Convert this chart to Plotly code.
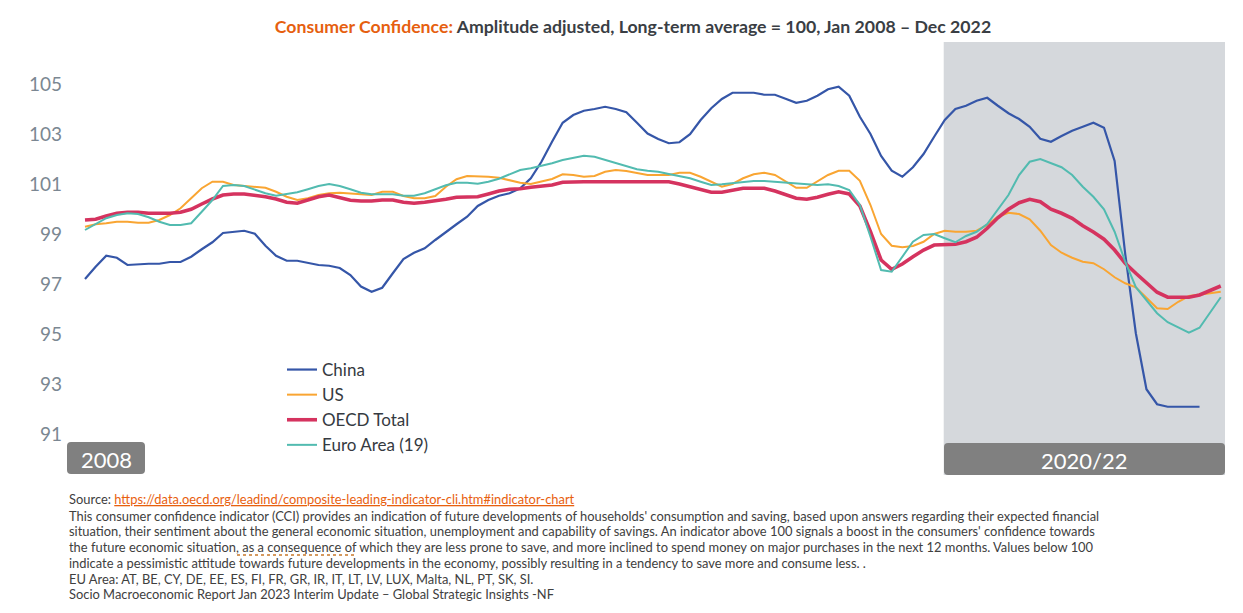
import plotly.graph_objects as go

# monthly readings, one value per period (China series stops two periods early)
china = [
    97.20, 97.69, 98.13, 98.05, 97.76, 97.79, 97.81, 97.81, 97.88, 97.88,
    98.09, 98.39, 98.67, 99.04, 99.09, 99.13, 99.01, 98.53, 98.13, 97.93,
    97.93, 97.85, 97.76, 97.73, 97.64, 97.36, 96.90, 96.69, 96.85, 97.43,
    98.00, 98.25, 98.43, 98.76, 99.09, 99.39, 99.69, 100.12, 100.36, 100.53,
    100.63, 100.83, 101.23, 101.89, 102.69, 103.45, 103.76, 103.93, 104.00, 104.09,
    104.00, 103.87, 103.45, 103.02, 102.80, 102.63, 102.67, 102.99, 103.56, 104.03,
    104.40, 104.65, 104.65, 104.65, 104.57, 104.57, 104.41, 104.25, 104.33, 104.53,
    104.79, 104.89, 104.53, 103.69, 103.00, 102.12, 101.53, 101.29, 101.67, 102.20,
    102.89, 103.56, 104.00, 104.13, 104.33, 104.45, 104.13, 103.83, 103.60, 103.29,
    102.81, 102.69, 102.92, 103.13, 103.29, 103.45, 103.25, 101.92, 98.20, 95.03,
    92.79, 92.19, 92.09, 92.09, 92.09, 92.09,
]
us = [
    99.29, 99.39, 99.43, 99.49, 99.49, 99.45, 99.45, 99.56, 99.76, 100.03,
    100.43, 100.83, 101.09, 101.09, 100.96, 100.92, 100.87, 100.85, 100.69, 100.49,
    100.36, 100.43, 100.56, 100.63, 100.65, 100.63, 100.59, 100.56, 100.69, 100.69,
    100.52, 100.43, 100.43, 100.52, 100.89, 101.19, 101.32, 101.32, 101.29, 101.25,
    101.16, 101.05, 101.00, 101.09, 101.20, 101.39, 101.36, 101.29, 101.32, 101.49,
    101.56, 101.52, 101.43, 101.36, 101.36, 101.36, 101.45, 101.45, 101.29, 101.09,
    100.89, 101.00, 101.23, 101.39, 101.45, 101.36, 101.09, 100.85, 100.85, 101.09,
    101.36, 101.53, 101.53, 101.13, 100.16, 99.00, 98.53, 98.47, 98.52, 98.69,
    99.00, 99.13, 99.09, 99.09, 99.13, 99.36, 99.69, 99.85, 99.80, 99.59,
    99.13, 98.56, 98.25, 98.05, 97.89, 97.83, 97.59, 97.27, 97.03, 96.87,
    96.43, 96.03, 96.00, 96.29, 96.52, 96.59, 96.63, 96.69,
]
oecd = [
    99.56, 99.59, 99.72, 99.83, 99.87, 99.87, 99.83, 99.83, 99.83, 99.87,
    99.99, 100.20, 100.40, 100.56, 100.60, 100.60, 100.56, 100.49, 100.40, 100.27,
    100.23, 100.36, 100.49, 100.56, 100.47, 100.35, 100.32, 100.32, 100.36, 100.36,
    100.27, 100.23, 100.27, 100.32, 100.39, 100.47, 100.49, 100.49, 100.60, 100.72,
    100.79, 100.81, 100.87, 100.92, 100.96, 101.07, 101.09, 101.09, 101.09, 101.09,
    101.09, 101.09, 101.09, 101.10, 101.12, 101.09, 101.00, 100.89, 100.76, 100.67,
    100.67, 100.76, 100.83, 100.83, 100.83, 100.72, 100.59, 100.43, 100.39, 100.47,
    100.59, 100.69, 100.60, 100.12, 99.09, 97.96, 97.59, 97.80, 98.09, 98.36,
    98.56, 98.59, 98.59, 98.69, 98.87, 99.23, 99.65, 99.99, 100.25, 100.39,
    100.29, 99.99, 99.83, 99.63, 99.33, 99.08, 98.79, 98.36, 97.83, 97.43,
    97.03, 96.67, 96.47, 96.47, 96.47, 96.56, 96.73, 96.92,
]
euro = [
    99.16, 99.40, 99.63, 99.76, 99.83, 99.80, 99.67, 99.49, 99.36, 99.36,
    99.43, 99.89, 100.36, 100.92, 100.96, 100.92, 100.76, 100.63, 100.53, 100.60,
    100.67, 100.79, 100.92, 101.00, 100.92, 100.79, 100.65, 100.59, 100.59, 100.59,
    100.53, 100.53, 100.63, 100.79, 100.95, 101.05, 101.05, 101.01, 101.09, 101.21,
    101.39, 101.56, 101.63, 101.72, 101.83, 101.96, 102.05, 102.13, 102.09, 101.96,
    101.83, 101.69, 101.59, 101.53, 101.49, 101.40, 101.32, 101.23, 101.09, 100.96,
    100.99, 101.03, 101.09, 101.12, 101.12, 101.09, 101.05, 101.00, 100.99, 100.96,
    100.99, 100.92, 100.76, 100.16, 98.89, 97.56, 97.49, 98.09, 98.69, 98.96,
    99.00, 98.83, 98.67, 98.92, 99.09, 99.40, 99.99, 100.56, 101.36, 101.89,
    102.00, 101.85, 101.67, 101.36, 100.89, 100.49, 99.99, 99.09, 97.89, 96.87,
    96.36, 95.83, 95.47, 95.27, 95.05, 95.25, 95.85, 96.47,
]
periods = list(range(len(oecd)))

series = [
    ("China", china, "#3556a8", 2.2),
    ("US", us, "#f9a532", 2),
    ("OECD Total", oecd, "#d5335f", 3.6),
    ("Euro Area (19)", euro, "#52bbb0", 2),
]
y_ticks = [91, 93, 95, 97, 99, 101, 103, 105]
shade_start = 80.9
shade_labels = ["2008", "2020/22"]

title_lead = "Consumer Confidence:"
title_rest = "Amplitude adjusted, Long-term average = 100, Jan 2008 \u2013 Dec 2022"
source_url = "https://data.oecd.org/leadind/composite-leading-indicator-cli.htm#indicator-chart"
notes = [
    "This consumer confidence indicator (CCI) provides an indication of future developments of households' consumption and saving, based upon answers regarding their expected financial",
    "situation, their sentiment about the general economic situation, unemployment and capability of savings. An indicator above 100 signals a boost in the consumers' confidence towards",
    "the future economic situation, as a consequence of which they are less prone to save, and more inclined to spend money on major purchases in the next 12 months. Values below 100",
    "indicate a pessimistic attitude towards future developments in the economy, possibly resulting in a tendency to save more and consume less. .",
    "EU Area: AT, BE, CY, DE, EE, ES, FI, FR, GR, IR, IT, LT, LV, LUX, Malta, NL, PT, SK, SI.",
    "Socio Macroeconomic Report Jan 2023 Interim Update \u2013 Global Strategic Insights -NF",
]

# page offset (body margin) and plot area, in page pixels
OFF = 8
W, H = 1243 - 2 * OFF, 613 - 2 * OFF
L, R, T, B = 67, 1225, 42, 475
FONT = "Lato, 'Open Sans', sans-serif"


def px(x):
    return (x - L) / (R - L)


def py(y):
    return (B - y) / (B - T)


def rounded_box(x0, y0, x1, y1, r=4):
    rx, ry = r / (R - L), r / (B - T)
    a, b, c, d = px(x0), py(y1), px(x1), py(y0)
    return (
        f"M{a + rx},{b} L{c - rx},{b} Q{c},{b} {c},{b + ry} "
        f"L{c},{d - ry} Q{c},{d} {c - rx},{d} L{a + rx},{d} "
        f"Q{a},{d} {a},{d - ry} L{a},{b + ry} Q{a},{b} {a + rx},{b} Z"
    )


fig = go.Figure()
for name, values, color, width in series:
    fig.add_trace(
        go.Scatter(
            x=periods[: len(values)],
            y=values,
            name=name,
            mode="lines",
            line=dict(color=color, width=width),
        )
    )

# highlighted 2020/22 window
fig.add_shape(
    type="rect", xref="x", yref="paper", x0=shade_start, x1=107.4, y0=0, y1=1,
    fillcolor="#d5d8dc", line_width=0, layer="below",
)
fig.add_shape(type="path", xref="paper", yref="paper", path=rounded_box(944, 443, 1225, 475),
              fillcolor="#808080", line_width=0, layer="above")
fig.add_shape(type="path", xref="paper", yref="paper", path=rounded_box(67, 442, 145, 474),
              fillcolor="#808080", line_width=0, layer="above")
fig.add_annotation(x=px(106), y=py(459), xref="paper", yref="paper", text=shade_labels[0],
                   xanchor="center", yanchor="middle", showarrow=False,
                   font=dict(family=FONT, size=22, color="white"))
fig.add_annotation(x=px(1084.5), y=py(460), xref="paper", yref="paper", text=shade_labels[1],
                   xanchor="center", yanchor="middle", showarrow=False,
                   font=dict(family=FONT, size=22, color="white"))

# footnotes
lines = [
    "Source: <span style='color:#e8600e;text-decoration:underline'>" + source_url + "</span>"
] + notes
line_y = [499, 516, 531, 547, 563, 579, 594]
for text, y in zip(lines, line_y):
    fig.add_annotation(
        x=px(67), y=py(y), xref="paper", yref="paper", xanchor="left", yanchor="middle",
        text=text, showarrow=False, align="left",
        font=dict(family=FONT, size=12.9, color="#404040"),
    )
# grammar-check squiggle under "as a consequence of"
fig.add_shape(type="line", xref="paper", yref="paper", x0=px(237), x1=px(357), y0=py(555), y1=py(555),
              line=dict(color="#c8782a", width=1.3, dash="dot"))

fig.update_layout(
    width=W,
    height=H,
    margin=dict(l=L - OFF, r=W - (R - OFF), t=T - OFF, b=H - (B - OFF)),
    paper_bgcolor="white",
    plot_bgcolor="white",
    title=dict(
        text=f"<b><span style='color:#e65f10'>{title_lead}</span> {title_rest}</b>",
        x=(633 - OFF) / W, y=1 - (27 - OFF) / H, xanchor="center", yanchor="middle",
        font=dict(family=FONT, size=17.7, color="#3a3e44"),
    ),
    legend=dict(
        x=px(282), y=py(352), xanchor="left", yanchor="top",
        bgcolor="rgba(0,0,0,0)", font=dict(family=FONT, size=17, color="#353a41"),
        itemwidth=30,
    ),
    hovermode=False,
)
fig.update_xaxes(range=[-1.696, 107.4], visible=False, showgrid=False)
fig.update_yaxes(
    range=[89.36, 106.68], tickvals=y_ticks, showgrid=False, zeroline=False, showline=False,
    ticks="", ticklabelstandoff=4, tickfont=dict(family=FONT, size=19, color="#7b8792"),
)

fig.write_html("out.html")
